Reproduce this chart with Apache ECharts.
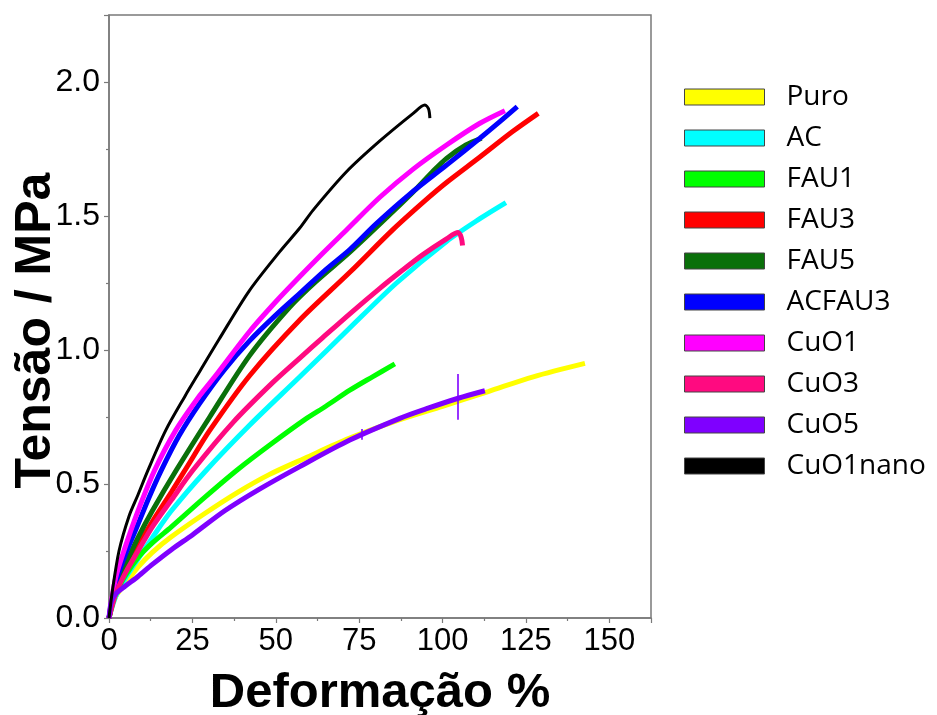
<!DOCTYPE html>
<html>
<head>
<meta charset="utf-8">
<script src="https://cdn.jsdelivr.net/npm/echarts@6/dist/echarts.min.js"></script>
<style>
  html, body { margin: 0; padding: 0; background: #ffffff; }
  #chart { width: 937px; height: 715px; }
</style>
</head>
<body>
<div id="chart"></div>
<script>
// Stress–strain curves: [strain %, stress MPa]
const puro = [[0,0],[2,0.08],[5,0.13],[8.7,0.19],[13,0.245],[18.7,0.303],[28.7,0.39],[38.7,0.47],[48,0.535],[58.7,0.596],[72,0.67],[87.2,0.74],[100,0.79],[113.7,0.845],[127.2,0.9],[142.7,0.95]];
const ac = [[0,0],[2,0.08],[5,0.15],[8.7,0.22],[13,0.3],[18.7,0.4],[28.7,0.545],[42.2,0.72],[57.2,0.9],[72,1.08],[86.2,1.25],[101.2,1.405],[111.2,1.49],[119,1.55]];
const fau1 = [[0,0],[2,0.09],[5,0.16],[8.7,0.225],[13,0.28],[18.7,0.34],[28.7,0.45],[38.7,0.555],[48.7,0.65],[58.7,0.74],[65,0.79],[72.2,0.85],[79,0.9],[85.7,0.948]];
const fau3 = [[0,0],[2,0.1],[5,0.19],[8.7,0.27],[13,0.36],[18.7,0.47],[23.7,0.57],[30.2,0.7],[42.2,0.905],[57.2,1.112],[72.2,1.29],[85.2,1.45],[95,1.56],[101.2,1.625],[111.2,1.72],[121,1.815],[128.7,1.883]];
const fau5 = [[0,0],[2,0.11],[5,0.2],[8.7,0.3],[13,0.4],[20.2,0.552],[30.2,0.75],[42.2,0.98],[54.2,1.16],[62,1.255],[72.2,1.365],[85,1.515],[92,1.6],[97,1.665],[101.2,1.715],[107,1.765],[111.7,1.79]];
const acfau3 = [[0,0],[2,0.13],[5,0.24],[8.7,0.35],[12,0.45],[15.7,0.552],[21,0.68],[27.2,0.801],[34.5,0.925],[42.2,1.035],[50,1.13],[57.2,1.211],[65,1.3],[72.2,1.375],[80,1.47],[90,1.58],[101.2,1.69],[111.2,1.79],[117,1.85],[122.4,1.908]];
const cuo1 = [[0,0],[2,0.15],[5,0.27],[8.7,0.4],[13.7,0.552],[20,0.7],[27.2,0.83],[31.7,0.9],[42.2,1.07],[50,1.18],[57.2,1.274],[64,1.36],[71.2,1.448],[81.2,1.57],[91.2,1.675],[101.2,1.765],[111.2,1.846],[118.7,1.893]];
const cuo3 = [[0,0],[2,0.09],[5,0.17],[8.7,0.25],[13,0.34],[18.7,0.44],[25.2,0.552],[37.2,0.73],[49.2,0.88],[57.2,0.97],[64,1.045],[72.2,1.135],[81.2,1.23],[87.2,1.29],[94,1.355],[101.2,1.415],[104.7,1.438],[105.6,1.42],[106,1.39]];
const cuo5 = [[0,0],[0.7,0.06],[2,0.09],[5,0.12],[8.7,0.155],[13,0.2],[18.7,0.255],[25,0.31],[34.7,0.4],[45,0.48],[57.2,0.565],[72.2,0.664],[87.2,0.745],[95,0.78],[104.7,0.82],[112.7,0.848]];
const cuo1nano = [[0,0],[1,0.1],[3,0.25],[6,0.38],[8.7,0.46],[11.7,0.552],[17,0.7],[22.7,0.826],[27.2,0.92],[33,1.04],[42,1.22],[51.2,1.367],[57.2,1.455],[61.2,1.522],[71.2,1.665],[81.2,1.78],[91.2,1.883],[94.7,1.914],[95.8,1.9],[96.2,1.865]];

// Short load spikes recorded on the CuO5 curve: [strain %, low MPa, high MPa]
const cuo5Spikes = [[75.7, 0.665, 0.705], [104.7, 0.74, 0.91]];

const names = ['Puro', 'AC', 'FAU1', 'FAU3', 'FAU5', 'ACFAU3', 'CuO1', 'CuO3', 'CuO5', 'CuO1nano'];
const curves = [puro, ac, fau1, fau3, fau5, acfau3, cuo1, cuo3, cuo5, cuo1nano];
const colors = ['#ffff00', '#00ffff', '#00ff00', '#ff0000', '#0a700a', '#0000ff', '#ff00ff', '#ff0a80', '#7f00ff', '#000000'];

const xTicks = { min: 0, max: 162.5, step: 25 };
const yTicks = { min: 0, max: 2.25, step: 0.5 };

const axisGrey = '#7a7a7a';
const tickFont = 'Liberation Sans, Arial, sans-serif';

const chart = echarts.init(document.getElementById('chart'), null, { renderer: 'canvas' });

function spikeLines(i) {
  if (names[i] !== 'CuO5') return undefined;
  return {
    silent: true,
    symbol: ['none', 'none'],
    label: { show: false },
    lineStyle: { color: colors[i], width: 1.6, type: 'solid', opacity: 1 },
    emphasis: { disabled: true },
    data: cuo5Spikes.map(s => [{ coord: [s[0], s[1]] }, { coord: [s[0], s[2]] }])
  };
}

chart.setOption({
  backgroundColor: '#ffffff',
  animation: false,
  grid: {
    left: 109, right: 286, top: 15, bottom: 97,
    containLabel: false,
    outerBoundsMode: 'none',
    show: true, borderColor: axisGrey, borderWidth: 1.5, backgroundColor: 'transparent'
  },
  legend: {
    orient: 'vertical',
    left: 684,
    top: 83,
    padding: 0,
    icon: 'rect',
    itemWidth: 80,
    itemHeight: 16,
    itemGap: 13,
    itemStyle: { borderColor: '#444444', borderWidth: 1 },
    textStyle: {
      fontFamily: 'Open Sans, sans-serif',
      fontSize: 28,
      color: '#000000',
      lineHeight: 28,
      padding: [0, 0, 0, 17]
    },
    data: names
  },
  xAxis: {
    type: 'value',
    min: xTicks.min,
    max: xTicks.max,
    interval: xTicks.step,
    name: 'Deformação %',
    nameLocation: 'middle',
    nameGap: 51,
    nameMoveOverlap: false,
    nameTextStyle: { fontFamily: tickFont, fontWeight: 'bold', fontSize: 49, color: '#000000' },
    axisLine: { lineStyle: { color: axisGrey, width: 1.5 } },
    axisTick: { show: true, inside: false, length: 5, lineStyle: { color: axisGrey, width: 1.2 } },
    minorTick: { show: true, splitNumber: 2, length: 3, lineStyle: { color: axisGrey, width: 1.2 } },
    splitLine: { show: false },
    minorSplitLine: { show: false },
    axisLabel: {
      fontFamily: tickFont, fontSize: 31, color: '#000000', margin: 8,
      showMaxLabel: false,
      formatter: v => (v % xTicks.step === 0 ? String(v) : '')
    }
  },
  yAxis: {
    type: 'value',
    min: yTicks.min,
    max: yTicks.max,
    interval: yTicks.step,
    name: 'Tensão / MPa',
    nameLocation: 'middle',
    nameGap: 48,
    nameMoveOverlap: false,
    nameTextStyle: {
      fontFamily: tickFont, fontWeight: 'bold', fontSize: 50, color: '#000000',
      padding: [0, 28, 0, 0]
    },
    axisLine: { show: true, lineStyle: { color: axisGrey, width: 1.5 } },
    axisTick: { show: true, inside: false, length: 5, lineStyle: { color: axisGrey, width: 1.2 } },
    minorTick: { show: true, splitNumber: 2, length: 3, lineStyle: { color: axisGrey, width: 1.2 } },
    splitLine: { show: false },
    minorSplitLine: { show: false },
    axisLabel: {
      fontFamily: tickFont, fontSize: 32, color: '#000000', margin: 9,
      showMaxLabel: false,
      formatter: v => (Math.abs(v / yTicks.step - Math.round(v / yTicks.step)) < 1e-9 ? v.toFixed(1) : '')
    }
  },
  series: curves.map((data, i) => ({
    name: names[i],
    type: 'line',
    data: data,
    showSymbol: false,
    smooth: 0.3,
    clip: true,
    color: colors[i],
    itemStyle: { color: colors[i] },
    lineStyle: { color: colors[i], width: names[i] === 'CuO1nano' ? 3 : 5 },
    emphasis: { disabled: true },
    markLine: spikeLines(i)
  }))
});
</script>
</body>
</html>
